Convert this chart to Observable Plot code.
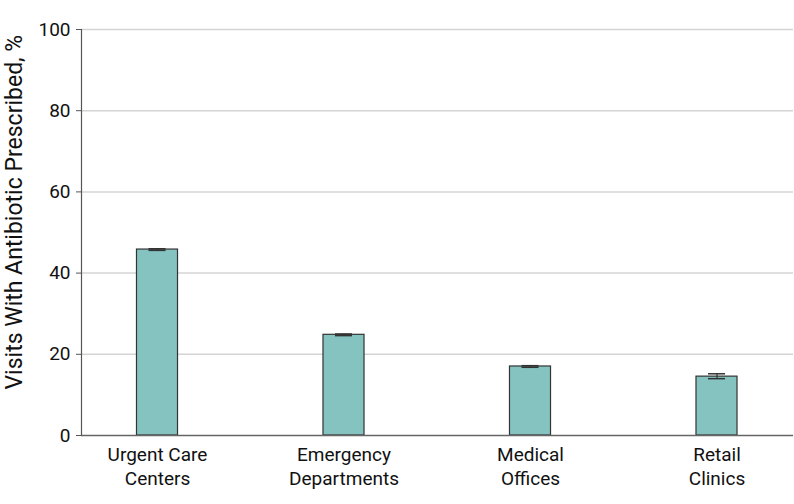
<!DOCTYPE html>
<html>
<head>
<meta charset="utf-8">
<script src="https://cdn.jsdelivr.net/npm/d3@7"></script>
<script src="https://cdn.jsdelivr.net/npm/@observablehq/plot@0.6"></script>
<style>
  html, body { margin: 0; padding: 0; background: #fff; }
  #chart svg { display: block; }
</style>
</head>
<body>
<div id="chart"></div>
<script>
const categories = ["Urgent Care\nCenters", "Emergency\nDepartments", "Medical\nOffices", "Retail\nClinics"];
const values = [45.8, 24.8, 17.0, 14.5];
const lower = [45.6, 24.6, 16.8, 14.0];
const upper = [46.0, 25.0, 17.2, 15.2];
const yTicks = [0, 20, 40, 60, 80, 100];
const yLabel = "Visits With Antibiotic Prescribed, %";

const data = categories.map((c, i) => ({cat: c, value: values[i], lo: lower[i], hi: upper[i]}));

const font = "Roboto, 'DejaVu Sans Condensed', sans-serif";

const chart = Plot.plot({
  width: 794,
  height: 504,
  marginLeft: 81,
  marginRight: 1,
  marginTop: 29,
  marginBottom: 69,
  style: {fontFamily: font, fontSize: "19px", color: "#111", background: "#fff"},
  x: {domain: categories, range: [63.75, 809.75], paddingInner: 0.78, paddingOuter: 0.39, round: false, label: null},
  y: {domain: [0, 100], ticks: yTicks, label: null},
  marks: [
    Plot.ruleY(yTicks.filter(d => d > 0), {stroke: "#d4d4d4", strokeWidth: 1.5}),
    Plot.barY(data, {x: "cat", y: "value", fill: "#84c3c0", stroke: "#333", strokeWidth: 1.2}),
    Plot.ruleX(data, {x: "cat", y1: "lo", y2: "hi", stroke: "#333", strokeWidth: 1.2}),
    Plot.tickY(data, {x: "cat", y: "lo", insetLeft: 12, insetRight: 12, stroke: "#333", strokeWidth: 1.5}),
    Plot.tickY(data, {x: "cat", y: "hi", insetLeft: 12, insetRight: 12, stroke: "#333", strokeWidth: 1.5}),
    Plot.ruleY([0], {stroke: "#666", strokeWidth: 1.5}),
    Plot.frame({anchor: "left", stroke: "#555", strokeWidth: 1.2}),
    Plot.axisY({ticks: yTicks, tickSize: 5, tickPadding: 6, label: null, stroke: "#555", fontSize: 19}),
    Plot.axisX({tickSize: 0, tickPadding: 8, lineHeight: 1.28, label: null, fontSize: 19}),
    Plot.text([yLabel], {text: d => d, y: () => 55, frameAnchor: "left", dx: -67, rotate: -90, textAnchor: "middle", lineAnchor: "middle", fontSize: 23, fill: "#111"})
  ]
});
document.getElementById("chart").appendChild(chart);
</script>
</body>
</html>
